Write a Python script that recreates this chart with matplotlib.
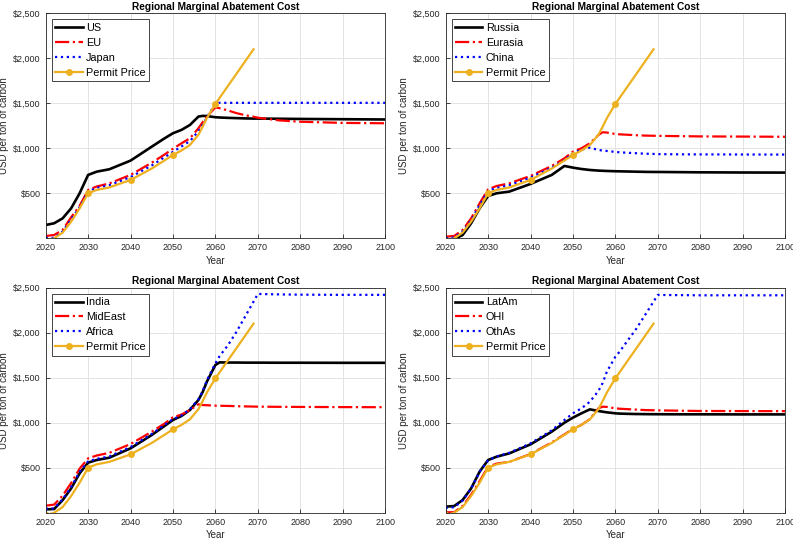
import numpy as np
import matplotlib
matplotlib.use('Agg')
import matplotlib.pyplot as plt

plt.rcParams['font.family'] = ['Liberation Sans', 'DejaVu Sans']

nan = np.nan

# shared year grid for all series
years = [2020, 2022, 2024, 2026, 2028, 2030, 2032, 2035, 2040, 2045, 2048, 2050,
         2052, 2054, 2056, 2057, 2058, 2060, 2061, 2063, 2065, 2067, 2069, 2070,
         2075, 2080, 2090, 2100]

# permit price (same in every panel), stops after 2069
permit = [-30, 0, 63, 185, 333, 500, 537, 565, 648, 775, 865, 926,
          975, 1037, 1150, 1240, 1335, 1493, 1560, 1695, 1830, 1965, 2100, nan,
          nan, nan, nan, nan]

us = [148, 167, 222, 333, 500, 704, 740, 767, 863, 1018, 1110, 1167,
      1204, 1259, 1352, 1360, 1358, 1345, 1342, 1338, 1335, 1332, 1330, 1330,
      1328, 1326, 1323, 1320]
eu = [26, 37, 93, 233, 360, 537, 575, 610, 704, 840, 930, 995,
      1055, 1111, 1222, 1290, 1352, 1455, 1445, 1420, 1390, 1368, 1350, 1340,
      1310, 1295, 1282, 1278]
japan = [5, 5, 75, 210, 345, 520, 560, 590, 680, 810, 900, 960,
         1020, 1080, 1190, 1260, 1340, 1500, 1505, 1505, 1505, 1505, 1505, 1505,
         1505, 1505, 1505, 1505]

russia = [-15, -10, 37, 167, 333, 470, 500, 519, 604, 704, 804, 785,
          770, 759, 752, 750, 748, 745, 744, 742, 740, 738, 737, 737,
          735, 733, 731, 730]
eurasia = [18, 26, 93, 222, 389, 544, 581, 611, 693, 804, 889, 963,
           1000, 1056, 1148, 1178, 1175, 1159, 1155, 1150, 1145, 1141, 1139, 1138,
           1135, 1132, 1130, 1128]
china = [0, 10, 75, 200, 370, 525, 560, 590, 675, 785, 870, 945,
         985, 1007, 981, 975, 970, 960, 955, 950, 945, 940, 937, 935,
         933, 932, 931, 930]

india = [37, 41, 140, 270, 437, 556, 585, 611, 715, 863, 963, 1030,
         1074, 1141, 1252, 1340, 1456, 1641, 1670, 1668, 1668, 1667, 1667, 1667,
         1666, 1666, 1665, 1665]
mideast = [78, 90, 190, 330, 490, 604, 635, 665, 763, 900, 990, 1060,
           1090, 1141, 1204, 1196, 1194, 1189, 1188, 1186, 1183, 1181, 1179, 1178,
           1176, 1175, 1173, 1172]
africa = [45, 48, 150, 285, 455, 570, 598, 625, 730, 875, 975, 1040,
          1080, 1150, 1260, 1350, 1470, 1660, 1740, 1863, 2011, 2178, 2345, 2430,
          2425, 2422, 2420, 2420]

latam = [67, 74, 141, 270, 456, 585, 622, 659, 759, 900, 1000, 1056,
         1104, 1148, 1130, 1122, 1115, 1104, 1101, 1098, 1096, 1095, 1094, 1094,
         1093, 1093, 1092, 1092]
ohi = [5, 5, 75, 200, 350, 510, 545, 565, 652, 780, 870, 930,
       975, 1040, 1159, 1178, 1175, 1159, 1155, 1150, 1145, 1140, 1138, 1137,
       1133, 1130, 1129, 1128]
othas = [55, 60, 135, 268, 455, 580, 625, 665, 770, 915, 1030, 1104,
         1159, 1233, 1352, 1440, 1567, 1733, 1789, 1919, 2048, 2196, 2345, 2419,
         2417, 2415, 2415, 2415]

panels = [
    (['US', 'EU', 'Japan'], [us, eu, japan]),
    (['Russia', 'Eurasia', 'China'], [russia, eurasia, china]),
    (['India', 'MidEast', 'Africa'], [india, mideast, africa]),
    (['LatAm', 'OHI', 'OthAs'], [latam, ohi, othas]),
]

yticks = [500, 1000, 1500, 2000, 2500]
ytick_labels = ['$500', '$1,000', '$1,500', '$2,000', '$2,500']
xticks = list(range(2020, 2101, 10))

styles = [dict(color='black', linestyle='-', linewidth=1.9),
          dict(color='red', linestyle='-.', linewidth=1.6),
          dict(color='blue', linestyle=':', linewidth=1.6)]
gold = '#EDB120'
dark = '#262626'
marker_idx = [years.index(y) for y in (2020, 2030, 2040, 2050, 2060)]

fig = plt.figure(figsize=(7.93, 5.41), dpi=100)
positions = [[0.0576, 0.5595, 0.4280, 0.4160],
             [0.5620, 0.5595, 0.4280, 0.4160],
             [0.0576, 0.0523, 0.4280, 0.4160],
             [0.5620, 0.0523, 0.4280, 0.4160]]

for pos, (names, series) in zip(positions, panels):
    ax = fig.add_axes(pos)
    for name, vals, st in zip(names, series, styles):
        ax.plot(years, vals, label=name, **st)
    ax.plot(years, permit, color=gold, linewidth=1.6, marker='o', markersize=4,
            markevery=marker_idx, label='Permit Price')
    ax.set_xlim(2020, 2100)
    ax.set_ylim(0, 2500)
    ax.set_xticks(xticks)
    ax.set_yticks(yticks)
    ax.set_yticklabels(ytick_labels)
    ax.tick_params(direction='in', length=3, width=0.6, labelsize=6.5,
                   colors=dark, pad=3.5)
    ax.grid(True, color='#e3e3e3', linewidth=0.7)
    ax.set_axisbelow(True)
    for sp in ax.spines.values():
        sp.set_color(dark)
        sp.set_linewidth(0.6)
    ax.set_title('Regional Marginal Abatement Cost', fontsize=7.3, fontweight='bold',
                 color='black', pad=2.5)
    ax.set_xlabel('Year', fontsize=7, color=dark, labelpad=2.5)
    ax.set_ylabel('USD per ton of carbon', fontsize=7, color=dark, labelpad=3)
    leg = ax.legend(loc='upper left', fontsize=7.8, handlelength=2.5,
                    labelspacing=0.45, borderaxespad=0.55, fancybox=False,
                    framealpha=1, edgecolor=dark, borderpad=0.35,
                    handletextpad=0.3)
    leg.get_frame().set_linewidth(0.6)

fig.savefig('out.png', dpi=100)
